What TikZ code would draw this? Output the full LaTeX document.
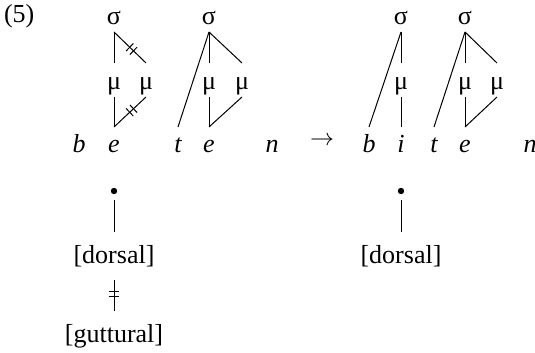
\documentclass[tikz,border=0pt]{standalone}
\usepackage{fontspec}
\setmainfont{Liberation Serif}
\usetikzlibrary{decorations.markings}
\begin{document}
\begin{tikzpicture}[x=0.5pt,y=-0.5pt,
  every node/.style={inner sep=0pt, outer sep=0pt, font=\fontsize{13}{15}\selectfont},
  syl/.style={anchor=base, text height=10pt, text depth=3.5pt},
  mora/.style={anchor=base, text height=13.5pt, text depth=3.5pt},
  seg/.style={anchor=base, text height=13pt, text depth=0pt, font=\fontsize{13}{15}\selectfont\itshape},
  feat/.style={anchor=base, text height=15.5pt, text depth=8.5pt},
  dotnode/.style={circle, fill, minimum size=3.2pt, outer sep=3pt},
  assoc/.style={line width=0.5pt},
  delink/.style={assoc, postaction={decorate}, decoration={markings,
    mark=at position #1 with {\draw[line width=0.5pt] (-1.3pt,-2.6pt)--(-1.3pt,2.6pt); \draw[line width=0.5pt] (1.3pt,-2.6pt)--(1.3pt,2.6pt);}}}
  ]
\useasboundingbox (0,0) rectangle (535,353);
\node[anchor=base west] (ex) at (4,23) {(5)};
% left representation
\node[syl] (s1) at (114,25) {σ};
\node[syl] (s2) at (209,25) {σ};
\node[mora] (m1) at (114,90) {μ};
\node[mora] (m2) at (146,90) {μ};
\node[mora] (m3) at (209,90) {μ};
\node[mora] (m4) at (242,90) {μ};
\node[seg] (b1) at (79,153) {b};
\node[seg] (e1) at (114,153) {e};
\node[seg] (t1) at (178,153) {t};
\node[seg] (e2) at (209,153) {e};
\node[seg] (n1) at (272,153) {n};
\draw[assoc] (s1.south) -- (m1.north);
\draw[delink=.55] (s1.south) -- (m2.north);
\draw[assoc] (m1.south) -- (e1.north);
\draw[delink=.45] (m2.south) -- (e1.north);
\draw[assoc] (s2.south) -- (t1.north);
\draw[assoc] (s2.south) -- (m3.north);
\draw[assoc] (s2.south) -- (m4.north);
\draw[assoc] (m3.south) -- (e2.north);
\draw[assoc] (m4.south) -- (e2.north);
\node[dotnode] (d1) at (114,191) {};
\node[feat] (f1) at (114,263) {[dorsal]};
\node[feat] (g1) at (114,342) {[guttural]};
\draw[assoc] (d1.south) -- (f1.north);
\draw[delink=.45] (f1.south) -- (g1.north);
% arrow
\node (arr) at (322,141) {$\rightarrow$};
% right representation
\node[syl] (s3) at (401,25) {σ};
\node[syl] (s4) at (465,25) {σ};
\node[mora] (m5) at (401,90) {μ};
\node[mora] (m6) at (465,90) {μ};
\node[mora] (m7) at (497,90) {μ};
\node[seg] (b2) at (369,153) {b};
\node[seg] (i2) at (401,153) {i};
\node[seg] (t2) at (434,153) {t};
\node[seg] (e3) at (465,153) {e};
\node[seg] (n2) at (530,153) {n};
\draw[assoc] (s3.south) -- (b2.north);
\draw[assoc] (s3.south) -- (m5.north);
\draw[assoc] (m5.south) -- (i2.north);
\draw[assoc] (s4.south) -- (t2.north);
\draw[assoc] (s4.south) -- (m6.north);
\draw[assoc] (s4.south) -- (m7.north);
\draw[assoc] (m6.south) -- (e3.north);
\draw[assoc] (m7.south) -- (e3.north);
\node[dotnode] (d2) at (401,191) {};
\node[feat] (f2) at (401,263) {[dorsal]};
\draw[assoc] (d2.south) -- (f2.north);
\end{tikzpicture}
\end{document}
